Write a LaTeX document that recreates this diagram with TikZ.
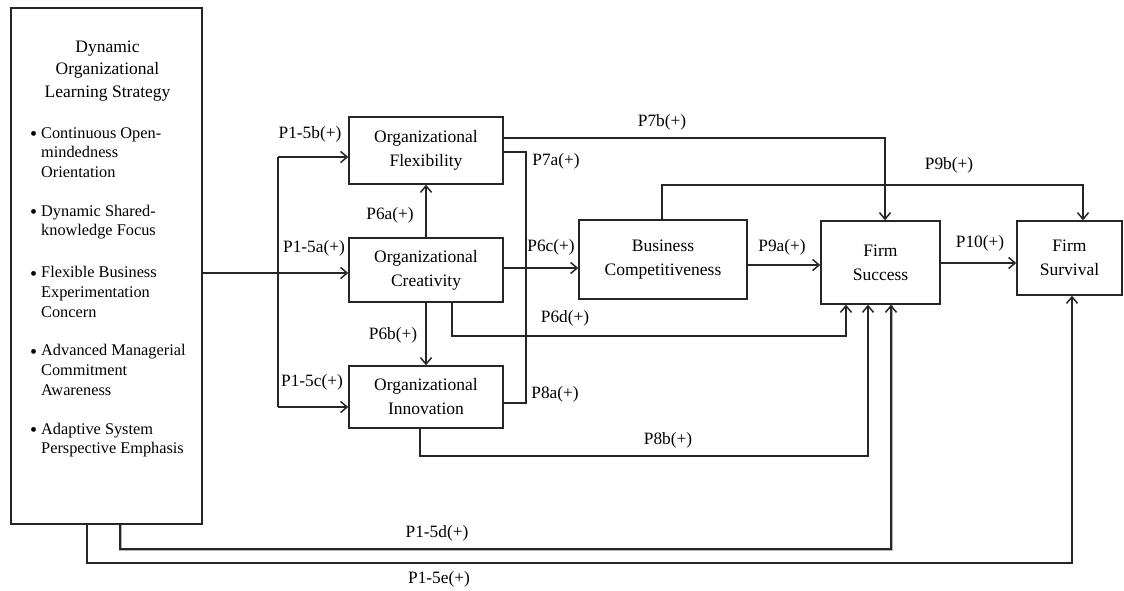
\documentclass[tikz,border=0pt]{standalone}
\usepackage{fontspec}
\setmainfont{Liberation Serif}
\usetikzlibrary{arrows.meta}
\begin{document}
\begin{tikzpicture}[x=1pt,y=-1pt,
  box/.style={draw=black!85, line width=1.4pt, align=center, inner sep=0pt,
    font=\fontsize{17.5}{24}\selectfont},
  lbl/.style={font=\fontsize{17.3}{20}\selectfont, inner sep=0pt},
  item/.style={font=\fontsize{16.3}{19.6}\selectfont, inner sep=0pt, align=left, anchor=west},
  conn/.style={draw=black!85, line width=1.4pt},
  arr/.style={conn, -{Straight Barb[length=6.5pt,width=11pt,line width=1.5pt]}},
  shadowed/.style={preaction={draw=black!30, line width=2.8pt, -, transform canvas={xshift=0.7pt,yshift=-0.7pt}}}]
\useasboundingbox (0,0) rectangle (1124,590);

% boxes
\node[box, minimum width=191pt, minimum height=516pt] (lrn) at (106.5,266) {};
\node[box, minimum width=154pt, minimum height=67pt] (flex) at (426,150.5) {Organizational\\Flexibility};
\node[box, minimum width=154pt, minimum height=64pt] (crea) at (426,270) {Organizational\\Creativity};
\node[box, minimum width=154pt, minimum height=62pt] (inno) at (426,397) {Organizational\\Innovation};
\node[box, minimum width=168pt, minimum height=79pt] (bc) at (663,259.5) {Business\\Competitiveness};
\node[box, minimum width=119pt, minimum height=83pt] (fs) at (880.5,262.5) {Firm\\Success};
\node[box, minimum width=105pt, minimum height=74pt] (fsv) at (1069.5,258) {Firm\\Survival};

% text of the learning strategy box
\node[align=center, inner sep=0pt, font=\fontsize{17.5}{22.5}\selectfont] (ttl) at (107.5,71)
  {Dynamic\\Organizational\\Learning Strategy};
\newcommand{\bul}{\llap{\raisebox{-2.2pt}{\fontsize{20}{20}\selectfont\textbullet}\hspace{4pt}}}
\node[item] (b1) at (41,152.5) {\bul Continuous Open-\\mindedness\\Orientation};
\node[item] (b2) at (41,222) {\bul Dynamic Shared-\\knowledge Focus};
\node[item] (b3) at (41,292) {\bul Flexible Business\\Experimentation\\Concern};
\node[item] (b4) at (41,370) {\bul Advanced Managerial\\Commitment\\Awareness};
\node[item] (b5) at (41,440) {\bul Adaptive System\\Perspective Emphasis};

% connectors
\coordinate (brt) at (278,157);
\coordinate (brb) at (278,407);
\draw[arr] (lrn.east |- 0,273) -- (crea.west |- 0,273);
\draw[conn] (brt) -- (brb);
\draw[arr] (brt) -- (flex.west |- brt);
\draw[arr] (brb) -- (inno.west |- brb);

\draw[arr] (crea.north) -- (flex.south);
\draw[arr] (crea.south) -- (inno.north);

\draw[conn] (flex.east |- 0,152) -- (526,152) -- (526,403) -- (inno.east |- 0,403);

\draw[arr] (crea.east |- 0,268) -- (bc.west |- 0,268);
\draw[arr] (flex.east |- 0,138) -| (fs.north -| 885,0);
\draw[arr] (bc.north -| 662,0) |- (1083,185) -- (fsv.north -| 1083,0);
\draw[arr] (bc.east |- 0,265) -- (fs.west |- 0,265);
\draw[arr] (fs.east |- 0,263) -- (fsv.west |- 0,263);
\draw[arr] (crea.south -| 452,0) |- (846,336) -- (fs.south -| 846,0);
\draw[arr] (inno.south -| 420,0) |- (868,456) -- (fs.south -| 868,0);
\draw[arr, shadowed] (lrn.south -| 120,0) |- (891,549) -- (fs.south -| 891,0);
\draw[arr] (lrn.south -| 87,0) |- (1072,563) -- (fsv.south -| 1072,0);

% labels
\node[lbl] (l1) at (310,134) {P1-5b(+)};
\node[lbl] (l2) at (314,248) {P1-5a(+)};
\node[lbl] (l3) at (312,382) {P1-5c(+)};
\node[lbl] (l4) at (390,215) {P6a(+)};
\node[lbl] (l5) at (393,335) {P6b(+)};
\node[lbl] (l6) at (556,161) {P7a(+)};
\node[lbl] (l7) at (555,394) {P8a(+)};
\node[lbl] (l8) at (551,247) {P6c(+)};
\node[lbl] (l9) at (565,318) {P6d(+)};
\node[lbl] (l10) at (662,122) {P7b(+)};
\node[lbl] (l11) at (782,247) {P9a(+)};
\node[lbl] (l12) at (949,165) {P9b(+)};
\node[lbl] (l13) at (980,243) {P10(+)};
\node[lbl] (l14) at (668,440) {P8b(+)};
\node[lbl] (l15) at (437,533) {P1-5d(+)};
\node[lbl] (l16) at (439,579) {P1-5e(+)};
\end{tikzpicture}
\end{document}
